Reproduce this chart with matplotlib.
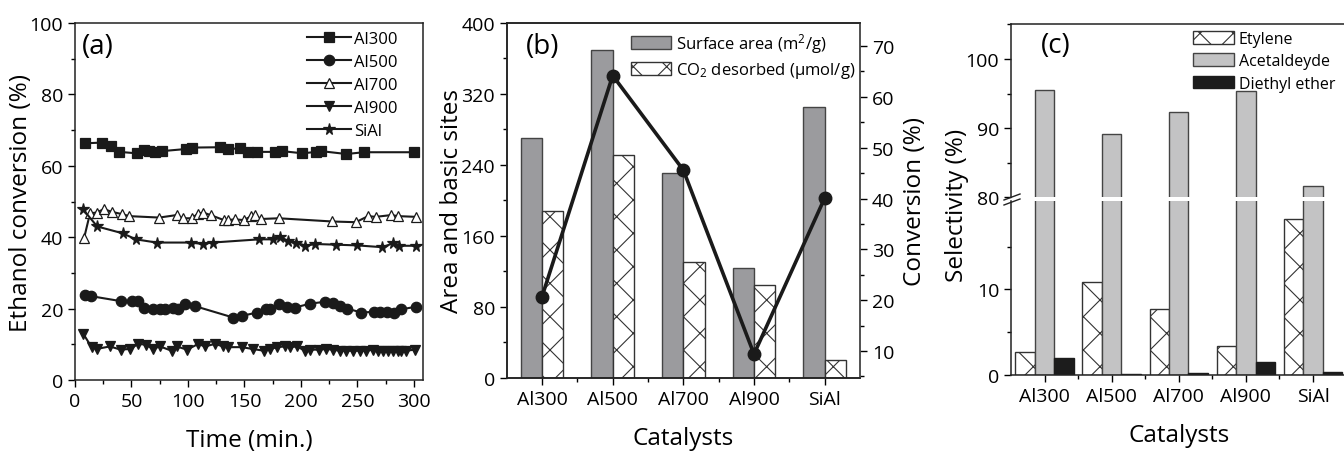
import matplotlib
matplotlib.use("Agg")
import matplotlib.pyplot as plt
import numpy as np
from matplotlib.lines import Line2D
from matplotlib.ticker import MultipleLocator

plt.rcParams['font.family'] = ['Open Sans', 'DejaVu Sans']
plt.rcParams['hatch.linewidth'] = 0.8
plt.rcParams['mathtext.fontset'] = 'custom'
plt.rcParams['mathtext.rm'] = 'Open Sans'
plt.rcParams['mathtext.it'] = 'Open Sans'

# ---- panel (a): ethanol conversion vs time ----
t_al300 = [8.8, 23.6, 31.5, 39.2, 54.5, 61.3, 65.7, 70.7, 76.6, 98.1, 103.4, 128.2, 135.6,
           145.9, 152.7, 161.5, 177.4, 183.6, 201.3, 213.7, 218.1, 240.2, 255.5, 299.7]
y_al300 = [66.3, 66.5, 65.5, 63.9, 63.5, 64.4, 64.1, 63.8, 64.1, 64.7, 65.1, 65.2, 64.7,
           64.9, 63.9, 63.9, 63.9, 64.1, 63.5, 63.9, 64.1, 63.3, 63.8, 63.8]

t_al500 = [8.8, 13.9, 40.4, 50.1, 56.0, 61.0, 69.3, 75.2, 79.6, 86.9, 91.4, 97.3, 106.1,
           140.0, 148.2, 161.2, 168.9, 173.0, 180.7, 187.2, 194.5, 208.4, 221.0, 228.4,
           234.3, 240.8, 253.5, 264.4, 269.7, 276.2, 282.1, 288.8, 301.5]
y_al500 = [23.8, 23.5, 22.1, 22.1, 22.1, 20.3, 19.8, 20.0, 20.0, 20.3, 19.8, 21.4, 20.7,
           17.5, 18.0, 18.9, 19.8, 20.0, 21.2, 20.5, 20.3, 21.4, 21.9, 21.5,
           20.6, 20.0, 18.9, 19.1, 19.1, 19.1, 18.9, 19.8, 20.5]

t_al700 = [8.0, 13.3, 19.2, 25.6, 32.4, 41.3, 48.0, 74.6, 89.9, 95.2, 103.2, 108.5, 113.5,
           120.0, 131.7, 135.6, 141.5, 149.4, 156.2, 159.2, 164.5, 180.4, 227.8, 248.5,
           259.4, 266.1, 280.0, 285.9, 302.1]
y_al700 = [39.7, 46.7, 46.9, 47.9, 47.1, 46.5, 45.9, 45.5, 46.2, 45.3, 45.3, 46.5, 46.9,
           46.2, 44.8, 44.8, 45.0, 44.8, 45.9, 46.2, 45.1, 45.3, 44.4, 44.2,
           45.9, 45.7, 46.2, 45.9, 45.7]

t_al900 = [7.4, 14.7, 19.2, 30.9, 40.4, 48.6, 56.0, 62.8, 68.7, 75.2, 85.5, 89.9, 99.3,
           109.0, 115.0, 123.8, 131.2, 135.6, 147.4, 157.1, 167.1, 173.0, 178.9, 185.7,
           190.1, 196.6, 203.4, 208.4, 216.0, 222.5, 228.4, 234.3, 240.2, 246.1, 252.0,
           257.9, 263.8, 268.2, 272.6, 277.0, 281.5, 285.9, 288.8, 293.3, 300.6]
y_al900 = [12.9, 9.2, 8.7, 9.4, 8.5, 8.7, 10.1, 9.9, 8.7, 9.4, 8.2, 9.4, 8.5,
           10.1, 9.4, 10.1, 9.4, 9.2, 9.2, 8.7, 8.2, 8.7, 9.2, 9.4,
           9.2, 9.4, 8.2, 8.5, 8.5, 8.7, 8.5, 8.2, 8.2, 8.2, 8.2,
           8.2, 8.5, 8.2, 8.2, 8.2, 8.2, 8.2, 8.2, 8.2, 8.5]

t_sial = [6.8, 19.7, 42.1, 53.9, 72.2, 102.3, 112.9, 121.7, 163.0, 174.8, 181.8, 188.6,
          196.0, 204.0, 212.2, 231.4, 250.0, 272.0, 281.5, 286.8, 301.5]
y_sial = [47.9, 43.0, 41.1, 39.4, 38.5, 38.5, 38.1, 38.5, 39.4, 39.4, 40.0, 39.0,
          38.5, 37.6, 38.1, 37.9, 37.7, 37.2, 38.3, 37.6, 37.6]

# ---- panel (b) ----
catalysts = ['Al300', 'Al500', 'Al700', 'Al900', 'SiAl']
surface_area = [270, 369, 231, 124, 305]
co2_desorbed = [188, 251, 131, 105, 20]
conversion = [20.7, 64.2, 45.6, 9.4, 40.1]

# ---- panel (c) ----
sel_etylene = [2.6, 10.9, 7.75, 3.35, 18.25]
sel_acetaldeyde = [95.5, 89.2, 92.3, 95.3, 81.7]
sel_diethyl = [2.0, 0.1, 0.2, 1.45, 0.3]

W, H = 1344, 452
fig = plt.figure(figsize=(W / 100, H / 100), dpi=100)


def px(x0, y0, x1, y1):
    # pixel box (top-left origin) -> figure fraction rect
    return [x0 / W, 1 - y1 / H, (x1 - x0) / W, (y1 - y0) / H]


TICK = 14
LAB = 17.5

def style(ax):
    ax.tick_params(which='both', labelsize=TICK, direction='out')
    ax.tick_params(which='major', length=5, width=1)
    ax.tick_params(which='minor', length=3, width=1)
    for s in ax.spines.values():
        s.set_linewidth(1.1)
        s.set_color('#222222')


# ---------------- (a) ----------------
axa = fig.add_axes(px(75, 24, 423, 381))
series = [
    ('Al300', t_al300, y_al300, 's', '#1a1a1a', 6.5),
    ('Al500', t_al500, y_al500, 'o', '#1a1a1a', 7.5),
    ('Al700', t_al700, y_al700, '^', 'white', 7.5),
    ('Al900', t_al900, y_al900, 'v', '#1a1a1a', 7.5),
    ('SiAl', t_sial, y_sial, '*', '#1a1a1a', 8.5),
]
for lab, tx, ty, m, fc, ms in series:
    axa.plot(tx, ty, color='#1a1a1a', lw=1.5, marker=m, markerfacecolor=fc,
             markeredgecolor='#1a1a1a', markeredgewidth=0.9, ms=ms, label=lab)
axa.set_xlim(0, 308)
axa.set_ylim(0, 100)
axa.xaxis.set_major_locator(MultipleLocator(50))
axa.xaxis.set_minor_locator(MultipleLocator(25))
axa.yaxis.set_major_locator(MultipleLocator(20))
axa.yaxis.set_minor_locator(MultipleLocator(10))
style(axa)
axa.set_xlabel('Time (min.)', fontsize=LAB, labelpad=13)
axa.set_ylabel('Ethanol conversion (%)', fontsize=LAB)
axa.yaxis.set_label_coords(-0.121, 0.5)
axa.text(0.02, 0.975, '(a)', transform=axa.transAxes, fontsize=20, va='top', ha='left')
axa.legend(loc='upper right', frameon=False, fontsize=12, handlelength=2.6,
           labelspacing=0.42, handletextpad=0.2, borderaxespad=0.2, bbox_to_anchor=(0.955, 1.005))

# ---------------- (b) ----------------
axb = fig.add_axes(px(506.7, 23.7, 860, 379))
x = np.arange(len(catalysts))
bw = 0.3
axb.bar(x - bw / 2, surface_area, bw, color='#9b9b9e', edgecolor='#444444', lw=1,
        label='Surface area (m$^2$/g)')
axb.bar(x + bw / 2, co2_desorbed, bw, color='white', edgecolor='#333333', lw=1, hatch='x',
        label='CO$_2$ desorbed ($\\mu$mol/g)')
axb.set_xlim(-0.5, 4.5)
axb.set_ylim(0, 400)
axb.set_xticks(x)
axb.set_xticklabels(catalysts)
axb.set_xticks(x[:-1] + 0.5, minor=True)
axb.yaxis.set_major_locator(MultipleLocator(80))
axb.yaxis.set_minor_locator(MultipleLocator(40))
style(axb)
axb.set_xlabel('Catalysts', fontsize=LAB, labelpad=13)
axb.set_ylabel('Area and basic sites', fontsize=LAB)
axb.yaxis.set_label_coords(-0.121, 0.5)
axb.text(0.055, 0.975, '(b)', transform=axb.transAxes, fontsize=20, va='top', ha='left')
axb.legend(loc='upper left', frameon=False, fontsize=12, handlelength=2.4, handleheight=0.8,
           labelspacing=0.3, handletextpad=0.3, borderaxespad=0.0,
           bbox_to_anchor=(0.333, 0.995))

axb2 = axb.twinx()
axb2.plot(x, conversion, color='#1a1a1a', lw=2.6, marker='o', ms=9)
axb2.set_ylim(4.7, 74.6)
axb2.yaxis.set_major_locator(MultipleLocator(10))
axb2.yaxis.set_minor_locator(MultipleLocator(5))
style(axb2)
axb2.spines['right'].set_color('#555555')
axb2.set_ylabel('Conversion (%)', fontsize=LAB)
axb2.yaxis.set_label_coords(1.122, 0.5)

# ---------------- (c) broken axis ----------------
cx0, cx1 = 1011, 1346.5
axc_top = fig.add_axes(px(cx0, 25.4, cx1, 198.3))
axc_bot = fig.add_axes(px(cx0, 202.3, cx1, 375.7))
cw = 0.29
for ax in (axc_top, axc_bot):
    ax.bar(x - cw, sel_etylene, cw, color='white', edgecolor='#333333', lw=1, hatch='x',
           label='Etylene')
    ax.bar(x, sel_acetaldeyde, cw, color='#c3c3c4', edgecolor='#444444', lw=1,
           label='Acetaldeyde')
    ax.bar(x + cw, sel_diethyl, cw, color='#1c1c1c', edgecolor='#1c1c1c', lw=1,
           label='Diethyl ether')
    ax.set_xlim(-0.5, 4.5)
    style(ax)

axc_top.set_ylim(80, 105)
axc_top.yaxis.set_major_locator(MultipleLocator(10))
axc_top.yaxis.set_minor_locator(MultipleLocator(5))
axc_top.spines['bottom'].set_visible(False)
axc_top.spines['right'].set_visible(False)
axc_top.set_xticks([])
axc_top.text(0.09, 0.96, '(c)', transform=axc_top.transAxes, fontsize=20, va='top', ha='left')
axc_top.legend(loc='upper left', frameon=False, fontsize=11.5, handlelength=2.6,
               handleheight=0.85, labelspacing=0.4, handletextpad=0.3, borderaxespad=0.0,
               bbox_to_anchor=(0.522, 1.0))

axc_bot.set_ylim(0, 20.3)
axc_bot.set_yticks([0, 10])
axc_bot.set_yticks([5, 15], minor=True)
axc_bot.spines['top'].set_visible(False)
axc_bot.spines['right'].set_visible(False)
axc_bot.set_xticks(x)
axc_bot.set_xticklabels(catalysts)
axc_bot.set_xticks(x[:-1] + 0.5, minor=True)
axc_bot.set_xlabel('Catalysts', fontsize=LAB, labelpad=13)

fig.text(957 / W, 1 - 205 / H, 'Selectivity (%)', rotation=90, fontsize=LAB,
         ha='center', va='center')

# break marks on the left spine
for yy in (198.0, 203.0):
    fig.add_artist(Line2D([1004 / W, 1020 / W], [1 - (yy + 3) / H, 1 - (yy - 3) / H],
                          transform=fig.transFigure, color='#222222', lw=1))

fig.savefig('out.png', dpi=100)
